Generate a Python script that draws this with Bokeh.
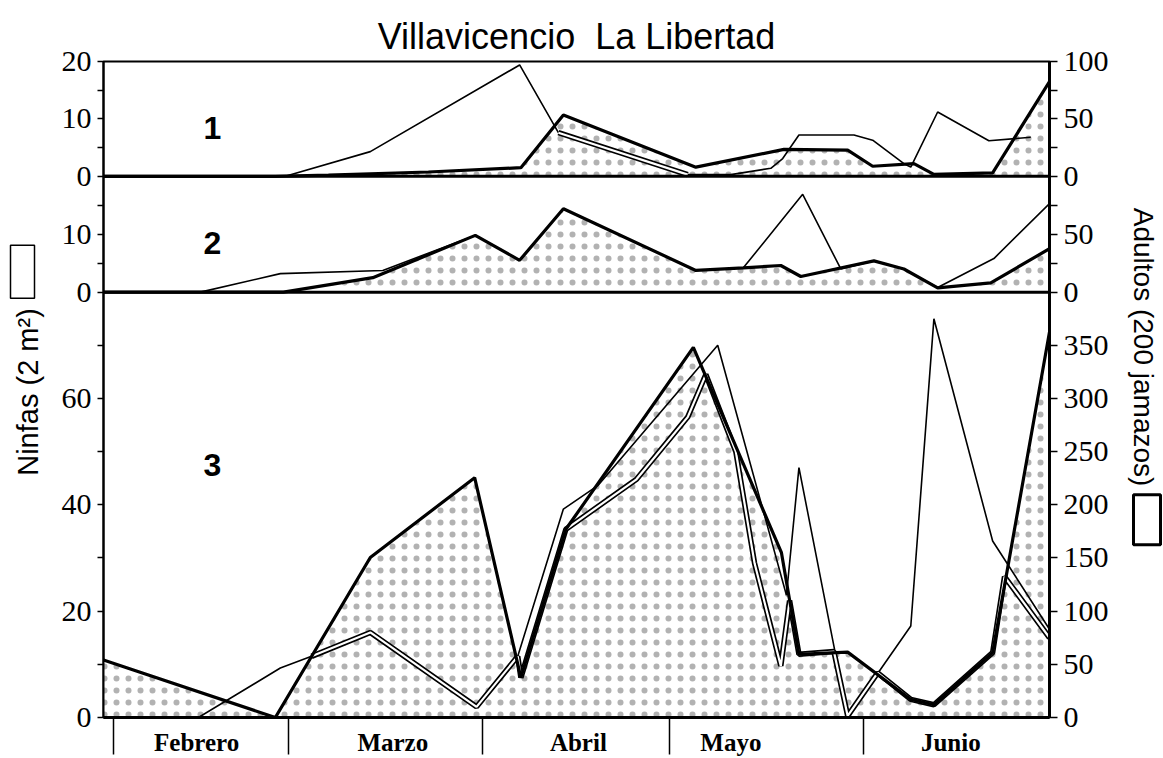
from math import pi
from bokeh.plotting import figure
from bokeh.layouts import row
from bokeh.models import Range1d, LinearAxis, FixedTicker, Span, Label
from bokeh.core.properties import value
from bokeh.embed import file_html
from bokeh.resources import INLINE

# ---------------- datos (x = días desde el 1 de febrero) ----------------
meses = ["Febrero", "Marzo", "Abril", "Mayo", "Junio"]
inicio_mes = [0, 28, 59, 89, 120]

# Panel 1
dias_ninfas_1 = [-1.6, 25.9, 34.4, 50.4, 65.2, 72.0, 93.2, 107.3, 117.5, 121.5, 128.1, 131.3, 140.7, 149.8]
ninfas_1 = [0, 0, 0.2, 0.75, 1.5, 10.7, 1.6, 4.7, 4.55, 1.75, 2.2, 0.35, 0.6, 16.5]
dias_adultos_1 = [27.5, 41.1, 65.0, 71.2, 91.9, 98.8, 105.2, 107.1, 109.7, 118.5, 121.5, 126.5, 127.6, 131.9, 140.1, 146.8]
adultos_1 = [0, 21.5, 97, 38, 1.5, 1.5, 7, 15.5, 36, 36, 31.5, 11, 8, 56, 31, 34]
dias_doble_1 = [71.2, 91.9]
doble_1 = [7.6, 0.3]

# Panel 2
dias_ninfas_2 = [-1.6, 27.2, 41.5, 57.9, 65.0, 72.0, 93.2, 100.8, 106.8, 110.0, 121.7, 126.5, 131.9, 140.4, 149.8]
ninfas_2 = [0, 0, 2.5, 9.8, 5.5, 14.4, 3.75, 4.2, 4.6, 2.7, 5.4, 4.0, 0.75, 1.6, 7.5]
dias_adultos_2 = [13.9, 26.7, 43.1, 57.9, 65.0, 72.0, 93.2, 100.8, 110.3, 116.4, 121.7, 126.5, 131.9, 140.9, 149.8]
adultos_2 = [0, 16, 18.75, 49, 27.5, 72, 18.75, 21, 84.5, 20, 27, 20, 4, 29, 76.5]
dias_doble_2 = []
doble_2 = []

# Panel 3
dias_ninfas_3 = [-1.6, 25.9, 41.1, 57.8, 65.2, 72.4, 92.8, 106.9, 109.7, 117.5, 127.6, 131.3, 140.7, 149.8]
ninfas_3 = [10.8, 0, 30.1, 45.1, 7.5, 35.4, 69.6, 31, 11.9, 12.3, 3.4, 2.4, 12.2, 72.5]
dias_adultos_3 = [13.6, 26.7, 31.7, 41.1, 58.1, 64.7, 72.0, 77.5, 96.7, 107.7, 109.7, 117.5, 127.6, 131.3, 140.7, 149.8]
adultos_3 = [0, 46.5, 57.5, 80, 10, 57.5, 196, 218, 350, 115, 235, 1, 86, 375, 166, 83]
dias_doble_3 = [31.7, 41.1, 58.1, 64.7, 65.2, 72.4, 83.7, 91.9, 94.8, 99.6, 102.6, 106.8, 108.2, 109.7,
                115.3, 117.5, 122.3, 127.6, 131.3, 140.7, 142.6, 149.8]
doble_3 = [11.5, 16, 2, 11.5, 7.5, 35.4, 44.8, 56.5, 64.5, 50, 29, 9.7, 22, 11.9,
           12.4, 0.3, 8.4, 3.4, 2.4, 12.2, 26.5, 15]

# ---------------- disposición ----------------
ALTO = 758
TOP, BOT = 61, 718                          # bordes del marco (px)
H = float(BOT - TOP)                        # alto del marco
ALT = {1: (542.0, 115.0), 2: (426.0, 116.0), 3: (0.0, 426.0)}   # (px debajo, alto del panel)
NMAX = {1: 20, 2: 20, 3: 80}
AMAX = {1: 100, 2: 100, 3: 400}


def rango(vmax, panel):
    below, h = ALT[panel]
    return Range1d(start=-vmax * below / h, end=vmax * (H - below) / h)


def frac(v, vmax, panel):
    below, h = ALT[panel]
    return (below + v * h / vmax) / H


SERIF = "Liberation Serif"
SANS = "Liberation Sans"

p = figure(width=1068, height=ALTO, x_range=Range1d(-1.6, 149.8), y_range=rango(80, 3),
           output_backend="svg", toolbar_location=None,
           min_border_left=53, min_border_right=69, min_border_top=TOP, min_border_bottom=ALTO - BOT)
p.extra_y_ranges = {"n1": rango(20, 1), "a1": rango(100, 1),
                    "n2": rango(20, 2), "a2": rango(100, 2), "a3": rango(400, 3)}
p.grid.visible = False
p.outline_line_color = "black"
p.outline_line_width = 2
p.background_fill_color = "white"
p.border_fill_color = "white"

Y3END = p.y_range.end
A3END = p.extra_y_ranges["a3"].end

# ----- eje izquierdo (ninfas) -----
izq_may = [(0, 3), (20, 3), (40, 3), (60, 3), (0, 2), (10, 2), (0, 1), (10, 1), (20, 1)]
izq_min = [(10, 3), (30, 3), (50, 3), (70, 3), (5, 2), (15, 2), (5, 1), (15, 1)]
ticks_izq = [frac(v, NMAX[k], k) * Y3END for v, k in izq_may]
yl = p.yaxis[0]
yl.ticker = FixedTicker(ticks=ticks_izq, minor_ticks=[frac(v, NMAX[k], k) * Y3END for v, k in izq_min])
yl.major_label_overrides = {t: str(v) for t, (v, k) in zip(ticks_izq, izq_may)}
yl.axis_line_width = 2
yl.major_tick_out = 6
yl.major_tick_in = 0
yl.minor_tick_out = 6
yl.minor_tick_in = 0
yl.major_tick_line_width = 1.5
yl.minor_tick_line_width = 1.5
yl.major_label_text_font = SERIF
yl.major_label_text_font_size = "30px"
yl.major_label_text_color = "black"
yl.major_label_standoff = 6

# ----- eje derecho (adultos) -----
der_may = [(v, 3) for v in range(0, 400, 50)] + [(0, 2), (50, 2), (0, 1), (50, 1), (100, 1)]
der_min = [(25, 2), (75, 2), (25, 1), (75, 1)]
ticks_der = [frac(v, AMAX[k], k) * A3END for v, k in der_may]
yr = LinearAxis(y_range_name="a3")
yr.ticker = FixedTicker(ticks=ticks_der, minor_ticks=[frac(v, AMAX[k], k) * A3END for v, k in der_min])
yr.major_label_overrides = {t: str(v) for t, (v, k) in zip(ticks_der, der_may)}
yr.axis_line_width = 3
yr.major_tick_out = 8
yr.major_tick_in = 0
yr.minor_tick_out = 8
yr.minor_tick_in = 0
yr.major_tick_line_width = 1.5
yr.minor_tick_line_width = 1.5
yr.major_label_text_font = SERIF
yr.major_label_text_font_size = "30px"
yr.major_label_text_color = "black"
yr.major_label_standoff = 6
p.add_layout(yr, "right")

# ----- eje inferior (meses) -----
pos_meses = [13.3, 44.7, 74.4, 98.8, 134.0]
xa = p.xaxis[0]
xa.ticker = FixedTicker(ticks=pos_meses, minor_ticks=inicio_mes)
xa.major_label_overrides = {t: m for t, m in zip(pos_meses, meses)}
xa.major_tick_out = 0
xa.major_tick_in = 0
xa.minor_tick_out = 37
xa.minor_tick_in = 0
xa.minor_tick_line_width = 1.5
xa.axis_line_width = 3
xa.major_label_text_font = SERIF
xa.major_label_text_font_style = "bold"
xa.major_label_text_font_size = "25px"
xa.major_label_text_color = "black"
xa.major_label_standoff = -26

# ----- series -----
paneles = [
    ("n1", "a1", dias_ninfas_1, ninfas_1, dias_adultos_1, adultos_1, dias_doble_1, doble_1),
    ("n2", "a2", dias_ninfas_2, ninfas_2, dias_adultos_2, adultos_2, dias_doble_2, doble_2),
    ("default", "a3", dias_ninfas_3, ninfas_3, dias_adultos_3, adultos_3, dias_doble_3, doble_3),
]
for rn, ra, dn, n, da, a, dd, d in paneles:
    p.varea(x=dn, y1=0, y2=n, y_range_name=rn, fill_color="white",
            hatch_pattern="dot", hatch_color="black", hatch_scale=12, hatch_weight=0.8, hatch_alpha=0.3)
    p.line(da, a, y_range_name=ra, line_color="black", line_width=1.6)
    if dd:
        p.line(dd, d, y_range_name=rn, line_color="black", line_width=5.5)
        p.line(dd, d, y_range_name=rn, line_color="white", line_width=2.2)
    p.line(dn, n, y_range_name=rn, line_color="black", line_width=3.2)

# separadores de paneles
for k in (1, 2):
    p.add_layout(Span(location=frac(0, NMAX[k], k) * Y3END, dimension="width",
                      line_color="black", line_width=3))

# números de panel
for txt, yy in (("1", 590), ("2", 475), ("3", 253)):
    p.add_layout(Label(x=109, y=yy, x_units="screen", y_units="screen", text=txt,
                       text_align="center", text_baseline="middle", text_font=SANS,
                       text_font_style="bold", text_font_size="32px", text_color="black"))

# título
p.title.text = "Villavicencio\u00a0 La Libertad"
p.title.align = "center"
p.title.text_font = SANS
p.title.text_font_size = "36px"
p.title.text_font_style = "normal"
p.title.text_color = "black"


def lateral(ancho):
    # el marco de estas figuras queda alineado con el de la figura central (TOP..BOT)
    f = figure(width=ancho, height=ALTO, x_range=Range1d(0, ancho),
               y_range=Range1d(ALTO - BOT, ALTO - TOP),
               output_backend="svg", toolbar_location=None, min_border=0, title=None,
               x_axis_location=None, y_axis_location=None)
    f.outline_line_color = None
    f.grid.visible = False
    f.background_fill_color = "white"
    f.border_fill_color = "white"
    return f


# títulos de ejes con su cuadro de leyenda
izq = lateral(50)
izq.text(x=[27], y=[ALTO - 392], text=["Ninfas (2 m²)"], angle=pi / 2,
         text_align="center", text_baseline="middle",
         text_font=value(SANS), text_font_size="29px", text_color="black")
izq.quad(left=[10], right=[34], bottom=[ALTO - 298], top=[ALTO - 245],
         fill_color="white", line_color="black", line_width=1.5)

der = lateral(45)
der.text(x=[25], y=[ALTO - 347], text=["Adultos (200 jamazos)"], angle=-pi / 2,
         text_align="center", text_baseline="middle",
         text_font=value(SANS), text_font_size="28px", text_color="black")
der.quad(left=[15], right=[42], bottom=[ALTO - 545], top=[ALTO - 495],
         fill_color="white", line_color="black", line_width=3)

layout = row(izq, p, der)
open("out.html", "w").write(file_html(layout, INLINE))
